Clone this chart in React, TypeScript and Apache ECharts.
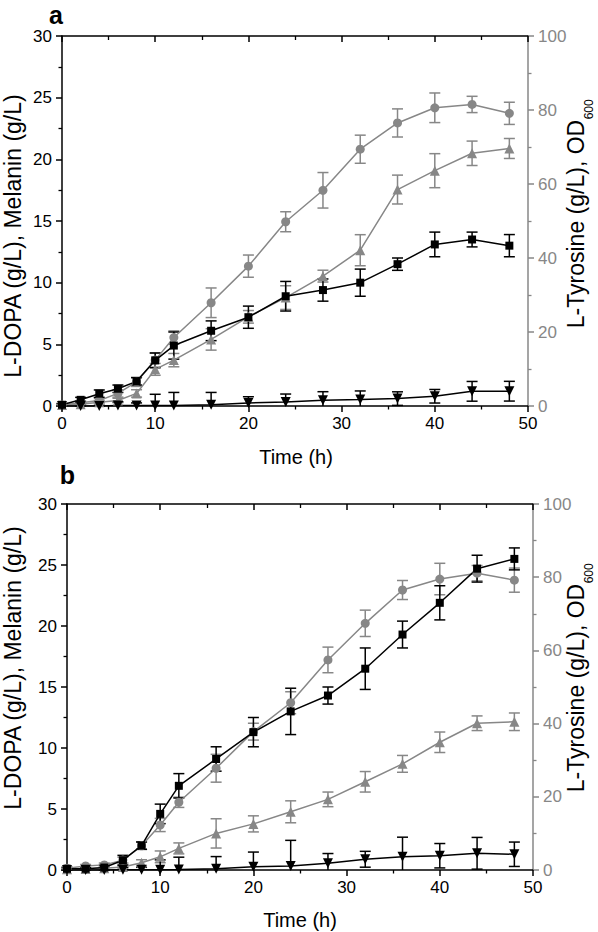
import React, { useEffect, useRef } from 'react';
import * as echarts from 'echarts';

// ---------- data ----------
const TIME = [0, 2, 4, 6, 8, 10, 12, 16, 20, 24, 28, 32, 36, 40, 44, 48];

// Panel a
const A_DOPA = [0.1, 0.5, 1.0, 1.4, 2.0, 3.7, 4.9, 6.1, 7.2, 8.9, 9.4, 10.0, 11.5, 13.1, 13.5, 13.0];
const A_DOPA_ERR = [0.1, 0.2, 0.3, 0.3, 0.3, 0.6, 1.1, 0.8, 0.9, 1.2, 0.9, 1.1, 0.5, 1.0, 0.6, 0.9];
const A_MELANIN = [0, 0, 0, 0.05, 0.05, 0.05, 0.05, 0.1, 0.25, 0.32, 0.46, 0.52, 0.6, 0.79, 1.19, 1.2];
const A_MELANIN_ERR = [0, 0, 0, 0.3, 0.2, 0.9, 1.05, 1.0, 0.5, 0.65, 0.7, 0.7, 0.55, 0.55, 0.8, 0.8];
const A_OD = [0.3, 0.9, 1.5, 3.4, 6.5, 12.4, 18.5, 27.9, 37.8, 49.8, 58.3, 69.4, 76.5, 80.6, 81.5, 79.1];
const A_OD_ERR = [0.3, 0.5, 0.6, 1.0, 1.2, 1.9, 1.8, 4.0, 3.0, 2.7, 4.8, 3.8, 3.8, 4.0, 2.2, 3.0];
const A_TYR = [0.3, 0.5, 1.0, 1.5, 3.4, 9.9, 12.4, 18.0, 24.1, 29.3, 35.1, 42.1, 58.5, 63.6, 68.3, 69.6];
const A_TYR_ERR = [0.2, 0.3, 0.5, 0.6, 1.0, 1.6, 1.8, 2.9, 1.7, 3.2, 1.6, 4.2, 3.9, 4.6, 3.3, 2.7];

// Panel b
const B_DOPA = [0.1, 0.1, 0.2, 0.8, 2.0, 4.6, 6.9, 9.1, 11.3, 13.0, 14.3, 16.5, 19.3, 21.9, 24.7, 25.5];
const B_DOPA_ERR = [0.1, 0.1, 0.2, 0.4, 0.3, 0.8, 1.0, 1.0, 1.2, 1.9, 0.7, 1.7, 1.1, 1.4, 1.1, 0.9];
const B_MELANIN = [0, 0, 0, 0.02, 0.02, 0.03, 0.05, 0.1, 0.27, 0.33, 0.55, 0.88, 1.09, 1.17, 1.37, 1.29];
const B_MELANIN_ERR = [0, 0, 0, 0.2, 0.2, 0.8, 1.0, 1.0, 1.2, 2.1, 0.8, 0.65, 1.6, 1.0, 1.3, 1.0];
const B_OD = [0.5, 1.1, 1.4, 2.7, 6.6, 12.3, 18.5, 27.8, 37.8, 45.7, 57.4, 67.4, 76.5, 79.5, 81.1, 79.2];
const B_OD_ERR = [0.3, 0.4, 0.5, 0.8, 1.0, 1.8, 1.4, 3.8, 2.3, 3.0, 3.5, 3.6, 2.6, 4.3, 2.1, 3.3];
const B_TYR = [0.2, 0.3, 0.5, 0.8, 2.0, 3.6, 5.9, 10.0, 12.6, 15.9, 19.3, 24.1, 29.0, 34.9, 40.1, 40.5];
const B_TYR_ERR = [0.2, 0.2, 0.3, 0.5, 0.8, 1.6, 1.5, 4.0, 2.2, 3.0, 2.0, 2.8, 2.3, 2.8, 2.0, 2.4];

const PANEL_LABELS = ['a', 'b'];
const LEFT_TITLE = 'L-DOPA (g/L), Melanin (g/L)';
const RIGHT_TITLE_MAIN = 'L-Tyrosine (g/L), OD';
const RIGHT_TITLE_SUB = '600';
const X_TITLE = 'Time (h)';

// ---------- styles ----------
const BLACK = '#000000';
const GRAY = '#878787';
const FONT = '"Liberation Sans", Arial, Helvetica, sans-serif';

const lineData = (vals: number[]) => TIME.map((t, i) => [t, vals[i]]);
const errData = (vals: number[], errs: number[]) =>
  TIME.map((t, i) => [t, vals[i] - errs[i], vals[i] + errs[i]]);

const errRender = (color: string) => (params: any, api: any) => {
  const x = api.value(0);
  const lo = api.value(1);
  const hi = api.value(2);
  const top = api.coord([x, hi]);
  const bot = api.coord([x, Math.max(lo, 0)]);
  const w = 5.5;
  const style = { stroke: color, lineWidth: 1.5, fill: null };
  const children: any[] = [
    { type: 'line', shape: { x1: top[0], y1: top[1], x2: bot[0], y2: bot[1] }, style },
    { type: 'line', shape: { x1: top[0] - w, y1: top[1], x2: top[0] + w, y2: top[1] }, style },
  ];
  if (lo > 0) {
    children.push({ type: 'line', shape: { x1: bot[0] - w, y1: bot[1], x2: bot[0] + w, y2: bot[1] }, style });
  }
  return { type: 'group', children };
};

function measure(text: string, font: string) {
  const c = document.createElement('canvas');
  const ctx = c.getContext('2d');
  if (!ctx) return text.length * 11;
  ctx.font = font;
  return ctx.measureText(text).width;
}

type PanelData = {
  dopa: number[]; dopaErr: number[];
  mel: number[]; melErr: number[];
  od: number[]; odErr: number[];
  tyr: number[]; tyrErr: number[];
};

function buildPanel(g: number, d: PanelData) {
  const xb = g * 2;
  const yl = g * 2;
  const yr = g * 2 + 1;
  const xAxes = [
    {
      gridIndex: g, type: 'value', min: 0, max: 50, interval: 10, position: 'bottom',
      axisLine: { show: true, onZero: false, lineStyle: { color: BLACK, width: 1.5 } },
      axisTick: { show: true, length: 6, lineStyle: { color: BLACK, width: 1.5 } },
      minorTick: { show: true, splitNumber: 2, length: 3.5, lineStyle: { color: BLACK, width: 1.3 } },
      axisLabel: { color: BLACK, fontSize: 17, fontFamily: FONT, margin: 9 },
      splitLine: { show: false },
    },
    {
      gridIndex: g, type: 'value', min: 0, max: 50, interval: 10, position: 'top',
      axisLine: { show: true, onZero: false, lineStyle: { color: BLACK, width: 1.5 } },
      axisTick: { show: true, inside: true, length: 6, lineStyle: { color: BLACK, width: 1.5 } },
      minorTick: { show: true, splitNumber: 2, length: 4, lineStyle: { color: BLACK, width: 1.3 } },
      axisLabel: { show: false },
      splitLine: { show: false },
    },
  ];
  const yAxes = [
    {
      gridIndex: g, type: 'value', min: 0, max: 30, interval: 5, position: 'left',
      axisLine: { show: true, onZero: false, lineStyle: { color: BLACK, width: 1.5 } },
      axisTick: { show: true, length: 6, lineStyle: { color: BLACK, width: 1.5 } },
      minorTick: { show: true, splitNumber: 2, length: 3.5, lineStyle: { color: BLACK, width: 1.3 } },
      axisLabel: { color: BLACK, fontSize: 17, fontFamily: FONT, margin: 10 },
      splitLine: { show: false },
    },
    {
      gridIndex: g, type: 'value', min: 0, max: 100, interval: 20, position: 'right',
      axisLine: { show: true, onZero: false, lineStyle: { color: GRAY, width: 1.5 } },
      axisTick: { show: true, length: 6, lineStyle: { color: GRAY, width: 1.5 } },
      minorTick: { show: true, splitNumber: 2, length: 3.5, lineStyle: { color: GRAY, width: 1.3 } },
      axisLabel: { color: GRAY, fontSize: 17, fontFamily: FONT, margin: 10 },
      splitLine: { show: false },
    },
  ];
  const mk = (name: string, vals: number[], errs: number[], yIdx: number, color: string,
    symbol: string, size: number, rotate = 0) => [
    {
      name: name + ' err', type: 'custom', xAxisIndex: xb, yAxisIndex: yIdx,
      renderItem: errRender(color), data: errData(vals, errs), encode: { x: 0, y: [1, 2] }, z: 2,
      silent: true,
    },
    {
      name, type: 'line', xAxisIndex: xb, yAxisIndex: yIdx, data: lineData(vals),
      symbol, symbolSize: size, symbolRotate: rotate, showAllSymbol: true,
      lineStyle: { color, width: 1.5 }, itemStyle: { color, borderWidth: 0 }, z: 3,
    },
  ];
  const series = [
    ...mk('OD600', d.od, d.odErr, yr, GRAY, 'circle', 9),
    ...mk('L-Tyrosine', d.tyr, d.tyrErr, yr, GRAY, 'triangle', 10),
    ...mk('Melanin', d.mel, d.melErr, yl, BLACK, 'triangle', 10, 180),
    ...mk('L-DOPA', d.dopa, d.dopaErr, yl, BLACK, 'rect', 8),
  ];
  return { xAxes, yAxes, series };
}

export default function App() {
  const ref = useRef<HTMLDivElement>(null);
  useEffect(() => {
    if (!ref.current) return;
    const chart = echarts.init(ref.current, undefined, { renderer: 'svg' });
    const pa = buildPanel(0, {
      dopa: A_DOPA, dopaErr: A_DOPA_ERR, mel: A_MELANIN, melErr: A_MELANIN_ERR,
      od: A_OD, odErr: A_OD_ERR, tyr: A_TYR, tyrErr: A_TYR_ERR,
    });
    const pb = buildPanel(1, {
      dopa: B_DOPA, dopaErr: B_DOPA_ERR, mel: B_MELANIN, melErr: B_MELANIN_ERR,
      od: B_OD, odErr: B_OD_ERR, tyr: B_TYR, tyrErr: B_TYR_ERR,
    });

    const titleFont = 23;
    const mainW = measure(RIGHT_TITLE_MAIN, `${titleFont}px "Liberation Sans"`);
    const subFont = 12;

    const vText = (text: string, x: number, y: number, size: number) => ({
      type: 'text', x, y, rotation: Math.PI / 2,
      style: { text, fontSize: size, fontFamily: FONT, fill: BLACK, align: 'center', verticalAlign: 'middle' },
    });
    const rightTitle = (cx: number, cy: number) => [
      {
        type: 'text', x: cx, y: cy, rotation: Math.PI / 2,
        style: { text: RIGHT_TITLE_MAIN, fontSize: titleFont, fontFamily: FONT, fill: BLACK, align: 'center', verticalAlign: 'middle' },
      },
      {
        type: 'text', x: cx + 7, y: cy - mainW / 2 - 0.5, rotation: Math.PI / 2,
        style: { text: RIGHT_TITLE_SUB, fontSize: subFont, fontFamily: FONT, fill: BLACK, align: 'left', verticalAlign: 'top' },
      },
    ];

    const graphic: any[] = [
      { type: 'text', x: 56, y: 15, style: { text: PANEL_LABELS[0], fontSize: 25, fontWeight: 'bold', fontFamily: FONT, fill: BLACK, align: 'center', verticalAlign: 'middle' } },
      { type: 'text', x: 67.5, y: 475, style: { text: PANEL_LABELS[1], fontSize: 25, fontWeight: 'bold', fontFamily: FONT, fill: BLACK, align: 'center', verticalAlign: 'middle' } },
      vText(LEFT_TITLE, 13, 236, 23),
      vText(LEFT_TITLE, 13, 668, 23),
      ...rightTitle(576, 224),
      ...rightTitle(576, 688),
      { type: 'text', x: 296, y: 457, style: { text: X_TITLE, fontSize: 20, fontFamily: FONT, fill: BLACK, align: 'center', verticalAlign: 'middle' } },
      { type: 'text', x: 300, y: 920, style: { text: X_TITLE, fontSize: 20, fontFamily: FONT, fill: BLACK, align: 'center', verticalAlign: 'middle' } },
    ];

    chart.setOption({
      animation: false,
      backgroundColor: '#ffffff',
      textStyle: { fontFamily: FONT },
      grid: [
        { left: 62, top: 36, width: 466, height: 370 },
        { left: 67, top: 504, width: 466, height: 366 },
      ],
      xAxis: [...pa.xAxes, ...pb.xAxes],
      yAxis: [...pa.yAxes, ...pb.yAxes],
      series: [...pa.series, ...pb.series],
      graphic,
    });
    return () => chart.dispose();
  }, []);
  return <div ref={ref} style={{ position: 'fixed', left: 0, top: 0, width: 598, height: 932, background: '#fff' }} />;
}
